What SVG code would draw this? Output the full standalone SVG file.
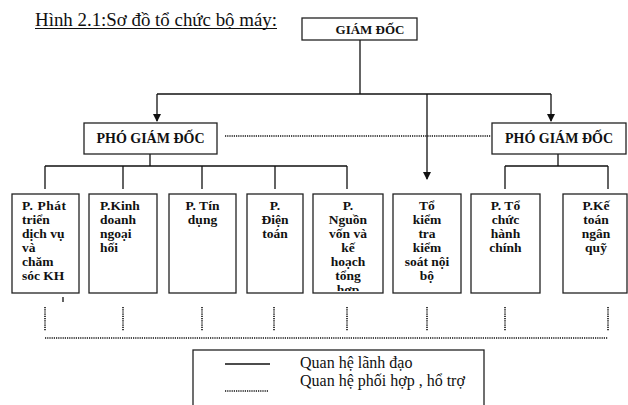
<svg xmlns="http://www.w3.org/2000/svg" width="628" height="405" viewBox="0 0 628 405">
<style>
.box{fill:#fff;stroke:#222;stroke-width:1.3}
.ln{stroke:#111;stroke-width:1.3;fill:none}
.dot{stroke:#111;stroke-width:1.6;fill:none;stroke-dasharray:1.2 1}
.t{font-family:"Liberation Serif","Times New Roman",serif;font-weight:bold;font-size:13.5px;fill:#111}
.c{text-anchor:middle}
.h{font-family:"Liberation Serif","Times New Roman",serif;font-weight:bold;fill:#111;text-anchor:middle}
.r{font-family:"Liberation Serif","Times New Roman",serif;fill:#111}
</style>
<defs>
<marker id="arr" markerWidth="8" markerHeight="8" refX="7" refY="4" orient="auto" markerUnits="userSpaceOnUse">
<path d="M0,0 L8,4 L0,8 Z" fill="#111"/>
</marker>
<clipPath id="clip5"><rect x="313" y="194" width="70" height="97"/></clipPath>
</defs>
<rect width="628" height="405" fill="#fff"/>
<g id="title">
<text class="r" x="35" y="26" font-size="18" textLength="242" lengthAdjust="spacingAndGlyphs">Hình 2.1:Sơ đồ tổ chức bộ máy:</text>
<line x1="35" y1="28.5" x2="277" y2="28.5" stroke="#111" stroke-width="1"/>
</g>
<g id="connectors">
<path class="ln" d="M360,40 V94"/>
<path class="ln" d="M157,94 H551"/>
<path class="ln" d="M157,94 V121" marker-end="url(#arr)"/>
<path class="ln" d="M551,94 V121" marker-end="url(#arr)"/>
<path class="ln" d="M427,94 V179" marker-end="url(#arr)"/>
<path class="dot" d="M225,136 H491"/>
<path class="ln" d="M150,154 V166 M45,166 H347 M45,166 V189 M123,166 V189 M202,166 V189 M275,166 V189 M347,166 V189"/>
<path class="ln" d="M558,154 V166 M505,166 H608 M505,166 V189 M608,166 V189"/>
<path class="ln" d="M63,297 V302" stroke-width="1"/>
<path class="dot" d="M45,307 V331 M123,307 V331 M202,307 V331 M274,307 V331 M347,307 V331 M427,307 V331 M505,307 V331 M608,307 V331"/>
<path class="dot" d="M45,338 H608"/>
</g>
<g id="giam-doc">
<rect class="box" x="302" y="18" width="115" height="22"/>
<text class="h" x="370" y="34" font-size="13">GIÁM ĐỐC</text>
</g>
<g id="pgd-left">
<rect class="box" x="84" y="123" width="133" height="31"/>
<text class="h" x="150.5" y="143" font-size="14">PHÓ GIÁM ĐỐC</text>
</g>
<g id="pgd-right">
<rect class="box" x="492" y="123" width="134" height="31"/>
<text class="h" x="559" y="143" font-size="14">PHÓ GIÁM ĐỐC</text>
</g>
<g id="p-phat-trien">
<rect class="box" x="12" y="194" width="67" height="99"/>
<text class="t" x="22" y="210"><tspan x="22" textLength="44">P. Phát</tspan><tspan x="22" dy="14">triển</tspan><tspan x="22" dy="14">dịch vụ</tspan><tspan x="22" dy="14">và</tspan><tspan x="22" dy="14">chăm</tspan><tspan x="22" dy="14">sóc KH</tspan></text>
</g>
<g id="p-kinh-doanh">
<rect class="box" x="89" y="194" width="68" height="99"/>
<text class="t" x="100" y="210"><tspan x="100">P.Kinh</tspan><tspan x="100" dy="14">doanh</tspan><tspan x="100" dy="14">ngoại</tspan><tspan x="100" dy="14">hối</tspan></text>
</g>
<g id="p-tin-dung">
<rect class="box" x="169" y="194" width="67" height="99"/>
<text class="t c" x="202.5" y="210"><tspan x="202.5">P. Tín</tspan><tspan x="202.5" dy="14">dụng</tspan></text>
</g>
<g id="p-dien-toan">
<rect class="box" x="247" y="194" width="56" height="99"/>
<text class="t c" x="275" y="210"><tspan x="275">P.</tspan><tspan x="275" dy="14">Điện</tspan><tspan x="275" dy="14">toán</tspan></text>
</g>
<g id="p-nguon-von">
<rect class="box" x="313" y="194" width="70" height="99"/>
<text class="t c" x="348" y="210" clip-path="url(#clip5)"><tspan x="348">P.</tspan><tspan x="348" dy="14">Nguồn</tspan><tspan x="348" dy="14">vốn và</tspan><tspan x="348" dy="14">kế</tspan><tspan x="348" dy="14">hoạch</tspan><tspan x="348" dy="14">tổng</tspan><tspan x="348" dy="14">hợp</tspan></text>
</g>
<g id="to-kiem-tra">
<rect class="box" x="393" y="194" width="68" height="99"/>
<text class="t c" x="427" y="210"><tspan x="427">Tổ</tspan><tspan x="427" dy="14">kiểm</tspan><tspan x="427" dy="14">tra</tspan><tspan x="427" dy="14">kiểm</tspan><tspan x="427" dy="14">soát nội</tspan><tspan x="427" dy="14">bộ</tspan></text>
</g>
<g id="p-to-chuc">
<rect class="box" x="471" y="194" width="69" height="99"/>
<text class="t c" x="505.5" y="210"><tspan x="505.5">P. Tổ</tspan><tspan x="505.5" dy="14">chức</tspan><tspan x="505.5" dy="14">hành</tspan><tspan x="505.5" dy="14">chính</tspan></text>
</g>
<g id="p-ke-toan">
<rect class="box" x="563" y="194" width="64" height="99"/>
<text class="t c" x="596" y="210"><tspan x="596">P.Kế</tspan><tspan x="596" dy="14">toán</tspan><tspan x="596" dy="14">ngân</tspan><tspan x="596" dy="14">quỹ</tspan></text>
</g>
<g id="legend">
<rect class="box" x="193" y="350" width="291" height="62"/>
<line class="ln" x1="225" y1="364" x2="270" y2="364"/>
<line class="dot" x1="225" y1="391" x2="268" y2="391"/>
<text class="r" x="300" y="368" font-size="16">Quan hệ lãnh đạo</text>
<text class="r" x="300" y="386" font-size="16">Quan hệ phối hợp , hổ trợ</text>
</g>
</svg>
